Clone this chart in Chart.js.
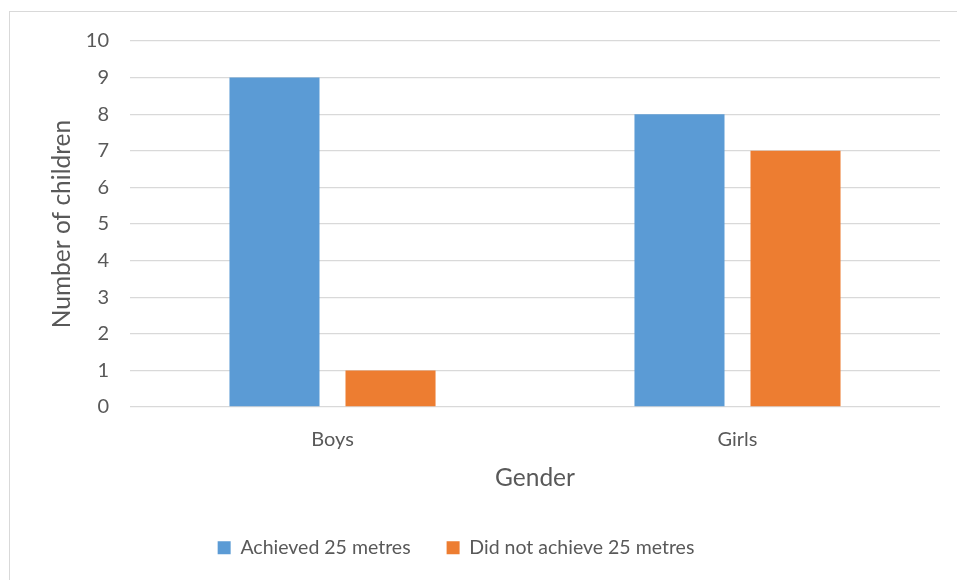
<!DOCTYPE html>
<html>
<head>
<meta charset="utf-8">
<script src="https://cdn.jsdelivr.net/npm/chart.js@4"></script>
<style>
  html, body { margin: 0; padding: 0; background: #fff; }
  #wrap { position: relative; width: 957px; height: 580px; overflow: hidden; }
  #frame { position: absolute; left: 9px; top: 11px; width: 960px; height: 600px; border: 1.5px solid #d9d9d9; box-sizing: border-box; }
  #chart { position: absolute; left: 0; top: 0; }
</style>
</head>
<body>
<div id="wrap">
  <div id="frame"></div>
  <canvas id="chart" width="957" height="580"></canvas>
</div>
<script>
const categories = ["Boys", "Girls"];
const achieved = [9, 8];
const notAchieved = [1, 7];
const seriesNames = ["Achieved 25 metres", "Did not achieve 25 metres"];
const yTicks = [0, 1, 2, 3, 4, 5, 6, 7, 8, 9, 10];

const font = "Lato, 'Open Sans', sans-serif";
const grey = "#595959";

// legend: fixed box height and a small left shift, like the Excel layout
const legendTweak = {
  id: "legendTweak",
  beforeInit(chart) {
    const lg = chart.legend;
    const fit = lg.fit;
    lg.fit = function () {
      fit.call(this);
      this.height = 78;
    };
  },
  afterLayout(chart) {
    chart.legend.left -= 14;
    chart.legend.right -= 14;
  },
};

new Chart(document.getElementById("chart"), {
  type: "bar",
  data: {
    labels: categories,
    datasets: [
      {
        label: seriesNames[0],
        data: achieved,
        backgroundColor: "#5b9bd5",
        categoryPercentage: 0.573,
        barPercentage: 0.776,
      },
      {
        label: seriesNames[1],
        data: notAchieved,
        backgroundColor: "#ed7d31",
        categoryPercentage: 0.573,
        barPercentage: 0.776,
      },
    ],
  },
  plugins: [legendTweak],
  options: {
    responsive: false,
    animation: false,
    layout: { padding: { left: 0, right: 17, top: 41, bottom: 0 } },
    plugins: {
      tooltip: { enabled: false },
      legend: {
        position: "bottom",
        labels: {
          font: { family: font, size: 19.5 },
          color: grey,
          boxWidth: 13,
          boxHeight: 13,
          padding: 36,
        },
      },
    },
    scales: {
      x: {
        afterFit: (axis) => { axis.height = 95; },
        grid: { display: false },
        border: { display: false },
        ticks: { font: { family: font, size: 20 }, color: grey, padding: 13 },
        title: {
          display: true,
          text: "Gender",
          font: { family: font, size: 24.5 },
          color: grey,
          padding: { top: 0, bottom: 9 },
        },
      },
      y: {
        min: 0,
        max: 10,
        afterFit: (axis) => { axis.width = 130; },
        afterBuildTicks: (axis) => { axis.ticks = yTicks.map((v) => ({ value: v })); },
        grid: { color: "#d9d9d9", lineWidth: 1.3, drawTicks: false },
        border: { display: false },
        ticks: { font: { family: font, size: 20 }, color: grey, padding: 21 },
        title: {
          display: true,
          text: "Number of children",
          font: { family: font, size: 24.5 },
          color: grey,
          padding: { top: 47, bottom: 0 },
        },
      },
    },
  },
});
</script>
</body>
</html>
